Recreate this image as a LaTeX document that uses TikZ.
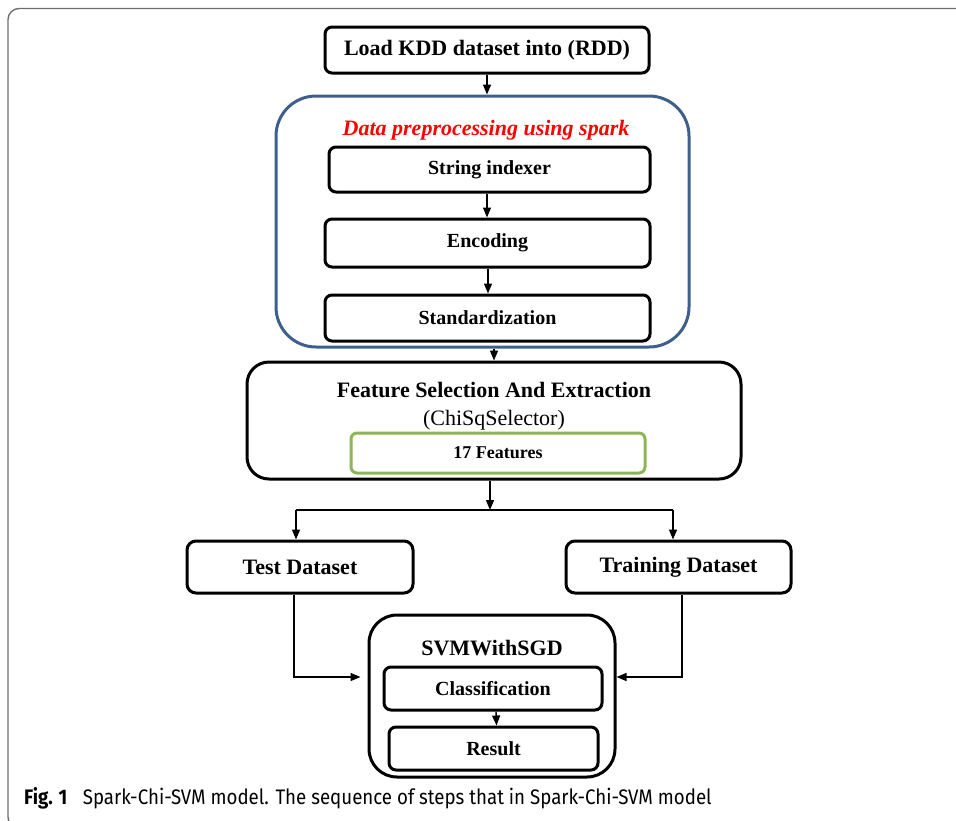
\documentclass[tikz,border=0pt]{standalone}
\usepackage{fontspec}
\setmainfont{Liberation Serif}
\newfontfamily\capfont{Fira Sans}[FakeStretch=0.89]
\usetikzlibrary{arrows.meta,calc}
\definecolor{frameg}{HTML}{6E6E6E}
\definecolor{boxblue}{HTML}{3E5F8C}
\definecolor{boxgreen}{HTML}{8DB456}
\definecolor{tred}{HTML}{FF0000}
\begin{document}
\begin{tikzpicture}[x=1pt,y=-1pt,
  box/.style={draw=black, line width=3pt, rounded corners=7pt, inner sep=0pt,
    font=\fontsize{20}{22}\selectfont\bfseries},
  bigbox/.style={box, font=\fontsize{22}{24}\selectfont\bfseries},
  panel/.style={draw=black, line width=3pt, inner sep=0pt},
  arr/.style={line width=1.4pt, -{Triangle[length=10pt,width=8pt]}},
  ln/.style={line width=1.4pt},
  lbl/.style={inner sep=0pt}
]
\useasboundingbox (0,0) rectangle (956,820);
% outer frame
\begin{scope}
\clip (0,0) rectangle (956,820);
\draw[frameg, line width=1.4pt, rounded corners=11pt] (8,8.5) rectangle (990,828);
\end{scope}

% top
\node[bigbox, minimum width=324pt, minimum height=46pt] (load) at (487,50) {Load KDD dataset into (RDD)};

% preprocessing panel
\node[panel, draw=boxblue, rounded corners=40pt, minimum width=413pt, minimum height=251pt] (pre) at (482.5,221.5) {};
\node[lbl, text=tred, font=\fontsize{22}{24}\selectfont\bfseries\itshape] (pretitle) at (486,130) {Data preprocessing using spark};
\node[box, minimum width=321pt, minimum height=45pt] (strix) at (489.5,169.5) {String indexer};
\node[box, minimum width=325pt, minimum height=48pt] (enc) at (487.5,243) {Encoding};
\node[box, minimum width=325pt, minimum height=46pt] (std) at (487.5,318) {Standardization};

% feature selection
\node[panel, rounded corners=22pt, minimum width=494pt, minimum height=117pt] (feat) at (494,420.5) {};
\node[lbl, font=\fontsize{22}{24}\selectfont\bfseries] (feattitle) at (494,390) {Feature Selection And Extraction};
\node[lbl, font=\fontsize{22}{24}\selectfont] (chisq) at (494,420) {(ChiSqSelector)};
\node[box, draw=boxgreen, rounded corners=6pt, minimum width=294pt, minimum height=40pt,
  font=\fontsize{18}{20}\selectfont\bfseries] (feat17) at (498,453) {17 Features};

% datasets
\node[bigbox, rounded corners=9pt, minimum width=226pt, minimum height=52pt] (test) at (300,567) {Test Dataset};
\node[bigbox, rounded corners=9pt, minimum width=225pt, minimum height=52pt] (train) at (678.5,567) {Training Dataset};

% SVM
\node[panel, rounded corners=28pt, minimum width=246pt, minimum height=162pt] (svm) at (492,696) {};
\node[lbl, font=\fontsize{22}{24}\selectfont\bfseries] (svmtitle) at (492,648) {SVMWithSGD};
\node[box, minimum width=218pt, minimum height=43pt] (cls) at (493,688.5) {Classification};
\node[box, minimum width=209pt, minimum height=43pt] (res) at (493.5,748.5) {Result};

% connectors
\coordinate (j) at (490,510);
\coordinate (jl) at (296,510);
\coordinate (jr) at (673,510);
\coordinate (tl) at (294,677);
\coordinate (tr) at (682,677);

\draw[arr] (load.south) -- (load.south |- pre.north);
\draw[arr] (strix.south -| load.south) -- (enc.north -| load.south);
\draw[arr] ([xshift=0.5pt]enc.south) -- ([xshift=0.5pt]std.north);
\draw[arr] (pre.south -| feat.north) -- (feat.north);
\draw[arr] (feat.south -| j) -- (j);
\draw[ln] (jl) -- (jr);
\draw[arr] (jl) -- (jl |- test.north);
\draw[arr] (jr) -- (jr |- train.north);
\draw[arr] (test.south -| tl) -- (tl) -- ($(svm.west |- tl)+(-7,0)$);
\draw[arr] (train.south -| tr) -- (tr) -- (svm.east |- tr);
\draw[arr] ([xshift=3pt]cls.south) -- ([xshift=3pt]res.north);

% caption
\node[lbl, anchor=west, font=\capfont\fontsize{21}{23}\selectfont] (cap) at (24,798)
  {\textbf{Fig. 1}\hspace{0.5em} Spark-Chi-SVM model. The sequence of steps that in Spark-Chi-SVM model};
\end{tikzpicture}
\end{document}
